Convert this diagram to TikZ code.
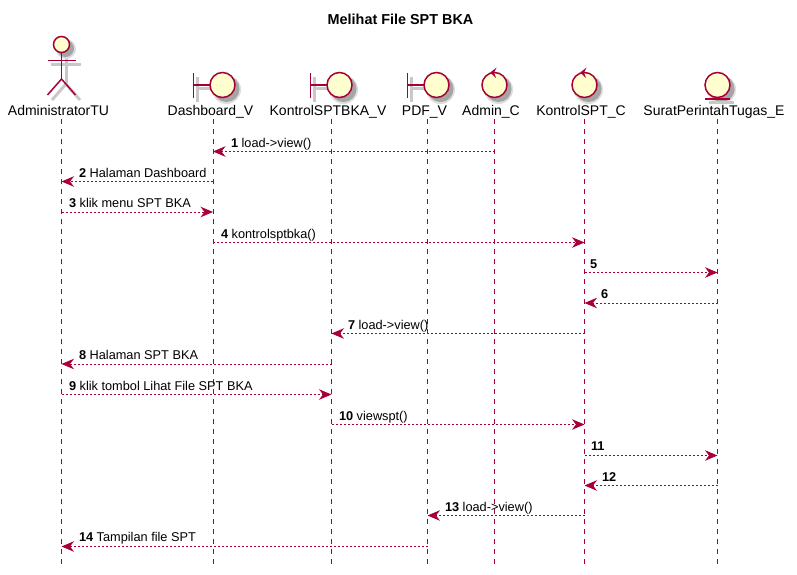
\documentclass[tikz,border=0pt]{standalone}
\usepackage{fontspec}
\setmainfont{Liberation Sans}
\usetikzlibrary{arrows.meta}
\definecolor{pu}{HTML}{A80036}
\definecolor{pf}{HTML}{FEFECE}
\definecolor{shadeline}{RGB}{200,200,200}
\definecolor{shadelight}{RGB}{222,222,222}
\definecolor{shadedark}{RGB}{165,165,165}
\tikzset{
  x=1pt,y=-1pt,
  every node/.style={inner sep=0pt,outer sep=0pt},
  part/.style={anchor=base,font=\fontsize{14}{16}\selectfont,text=black},
  msgl/.style={anchor=base west,font=\fontsize{12.75}{15}\selectfont,text=black},
  life/.style={draw=pu,line width=1pt,dash pattern=on 5pt off 5pt},
  msg/.style={draw=pu,line width=.9pt,dash pattern=on 2pt off 2pt,-{Stealth[length=12.5pt,width=10.5pt,inset=4pt]}},
  ln/.style={draw=pu,line width=1.5pt},
  shln/.style={draw=shadeline,line width=3pt},
  circ/.style={draw=pu,fill=pf,line width=1.5pt},
  shouter/.style={circle,fill=shadelight,draw=shadelight,line width=1pt,minimum size=#1},
  shinner/.style={circle,fill=shadedark,draw=shadedark,line width=1pt,minimum size=#1},
}
\begin{document}
\begin{tikzpicture}
\useasboundingbox (0,0) rectangle (797,575);
\fill[white] (0,0) rectangle (797,575);
% lifeline ends
\foreach \n/\x in {la/61.5,lb/213,lc/331.5,ld/427.5,le/494.5,lf/584.5,lg/717.5}{
  \coordinate (\n) at (\x,119);
  \coordinate (\n b) at (\x,565);
  \draw[life] (\n) -- (\n b);
}
% shadows, all behind the shapes
\draw[shln] (51,65) -- (81,65);
\draw[shln] (66,57) -- (66,84);
\draw[shln] (52,100) -- (66,84) -- (80,100);
\node[shouter=19pt] (sa) at (66,49) {};
\node[shinner=16pt] (sb) at (65.5,48.5) {};
\foreach \b/\c in {197.5/226.5,314.5/343.5,411.5/440.5}{
  \draw[shln] (\b,77) -- (\b,102);
  \draw[shln] (\b,89) -- (\c,89);
}
\foreach \c in {226.5,343.5,440.5,498.5,588.5,721.5}{
  \node[shouter=28pt] at (\c,89.5) {};
  \node[shinner=25pt] at (\c,89) {};
}
\draw[shln] (709,103) -- (734,103);
% actor
\draw[circ] (61.5,44.5) circle[radius=8];
\draw[ln] (61.5,52.5) -- (61.5,79);
\draw[ln] (47.5,60.5) -- (75.5,60.5);
\draw[ln] (47.5,95) -- (61.5,79) -- (75.5,95);
% boundary
\foreach \b/\c in {193.5/222.5,310.5/339.5,407.5/436.5}{
  \draw[ln] (\b,73) -- (\b,98);
  \draw[ln] (\b,85) -- (\c,85);
  \draw[circ] (\c,85) circle[radius=12.5];
}
% control
\foreach \c in {494.5,584.5}{
  \draw[circ] (\c,85) circle[radius=12.5];
  \fill[pu] (\c+2,67.5) -- (\c-4.2,72.5) -- (\c+1.5,78) -- (\c-.5,72.5) -- cycle;
}
% entity
\draw[circ] (717.5,85) circle[radius=12.5];
\draw[ln] (705,99) -- (730,99);
% title
\node[anchor=base,font=\bfseries\fontsize{14.4}{16}\selectfont] (title) at (400.5,25) {Melihat File SPT BKA};
% participants
\node[part] (admtu) at (58.5,116) {AdministratorTU};
\node[part] (dash) at (210.5,116) {Dashboard\_V};
\node[part] (kbka) at (328,116) {KontrolSPTBKA\_V};
\node[part] (pdf) at (424.5,116) {PDF\_V};
\node[part] (adc) at (491,116) {Admin\_C};
\node[part] (ksc) at (581,116) {KontrolSPT\_C};
\node[part] (spt) at (714,116) {SuratPerintahTugas\_E};
% messages
\foreach \i/\y in {1/151.5,2/181.5,3/212,4/242.5,5/272.5,6/303,7/333.5,8/364,9/394.5,10/424.5,11/455.5,12/485.5,13/515.5,14/546.5}
  \coordinate (m\i) at (0,\y);
\draw[msg] (le |- m1) -- (lb |- m1);
\draw[msg] (lb |- m2) -- (la |- m2);
\draw[msg] (la |- m3) -- (lb |- m3);
\draw[msg] (lb |- m4) -- (lf |- m4);
\draw[msg] (lf |- m5) -- (lg |- m5);
\draw[msg] (lg |- m6) -- (lf |- m6);
\draw[msg] (lf |- m7) -- (lc |- m7);
\draw[msg] (lc |- m8) -- (la |- m8);
\draw[msg] (la |- m9) -- (lc |- m9);
\draw[msg] (lc |- m10) -- (lf |- m10);
\draw[msg] (lf |- m11) -- (lg |- m11);
\draw[msg] (lg |- m12) -- (lf |- m12);
\draw[msg] (lf |- m13) -- (ld |- m13);
\draw[msg] (ld |- m14) -- (la |- m14);
% labels
\node[msgl] (t1) at (231,147) {\textbf{1} load->view()};
\node[msgl] (t2) at (79,177) {\textbf{2} Halaman Dashboard};
\node[msgl] (t3) at (69,207) {\textbf{3} klik menu SPT BKA};
\node[msgl] (t4) at (221,238) {\textbf{4} kontrolsptbka()};
\node[msgl] (t5) at (590,268) {\textbf{5}};
\node[msgl] (t6) at (601,298) {\textbf{6}};
\node[msgl] (t7) at (348,329) {\textbf{7} load->view()};
\node[msgl] (t8) at (79,359) {\textbf{8} Halaman SPT BKA};
\node[msgl] (t9) at (69,390) {\textbf{9} klik tombol Lihat File SPT BKA};
\node[msgl] (t10) at (339,420) {\textbf{10} viewspt()};
\node[msgl] (t11) at (591,450) {\textbf{11}};
\node[msgl] (t12) at (602,481) {\textbf{12}};
\node[msgl] (t13) at (445,511) {\textbf{13} load->view()};
\node[msgl] (t14) at (79,541) {\textbf{14} Tampilan file SPT};
\end{tikzpicture}
\end{document}
